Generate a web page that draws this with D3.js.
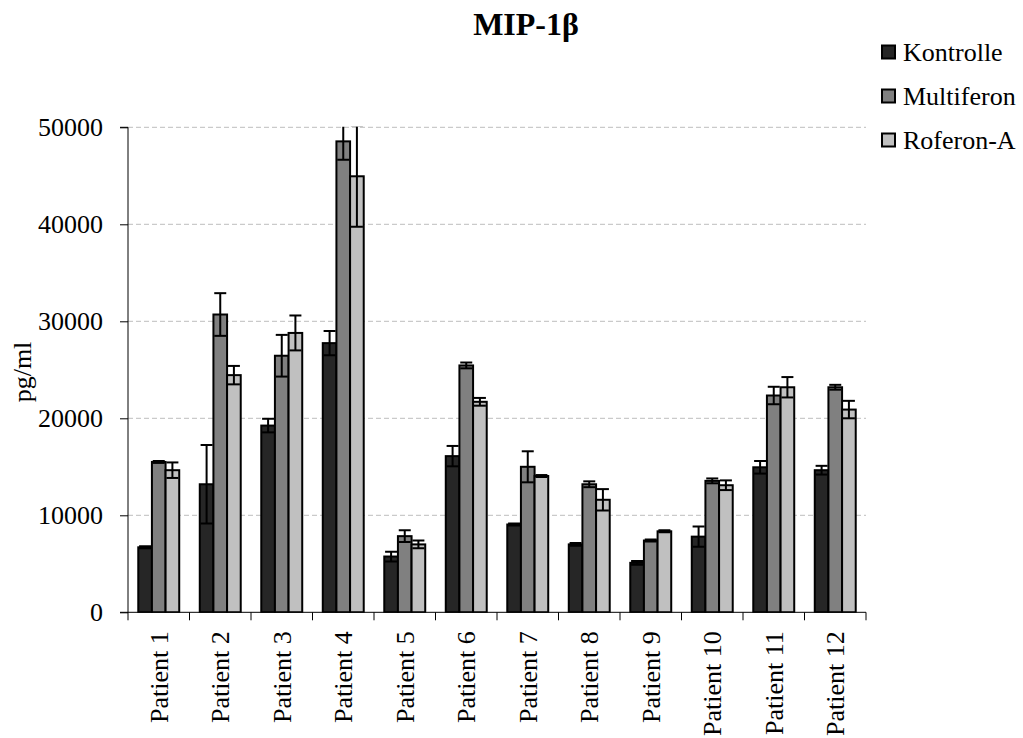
<!DOCTYPE html>
<html><head><meta charset="utf-8">
<script src="https://cdn.jsdelivr.net/npm/d3@7"></script>
<style>
html,body{margin:0;padding:0;background:#fff;}
svg{display:block;}
svg text{font-family:"Liberation Serif","Times New Roman",serif !important;}
</style></head>
<body>
<svg id="chart" width="1023" height="738"></svg>
<script>
const categories = ["Patient 1","Patient 2","Patient 3","Patient 4","Patient 5","Patient 6","Patient 7","Patient 8","Patient 9","Patient 10","Patient 11","Patient 12"];
const seriesNames = ["Kontrolle","Multiferon","Roferon-A"];
const kontrolle    = [6700, 13200, 19250, 27750, 5750, 16100, 9050, 7000, 5100, 7800, 14950, 14650];
const kontrolleErr = [100, 4050, 700, 1250, 500, 1050, 100, 150, 200, 1050, 650, 450];
const multiferon    = [15500, 30700, 26450, 48550, 7850, 25450, 15000, 13200, 7400, 13550, 22350, 23200];
const multiferonErr = [100, 2200, 2150, 1900, 600, 300, 1600, 300, 100, 250, 900, 250];
const roferon    = [14650, 24450, 28800, 44950, 7000, 21700, 14050, 11600, 8350, 13100, 23200, 20900];
const roferonErr = [800, 950, 1800, 5200, 400, 400, 100, 1100, 100, 500, 1050, 900];
const yTicks = [0, 10000, 20000, 30000, 40000, 50000];
const colors = ["#262626", "#808080", "#c0c0c0"];

const values = [kontrolle, multiferon, roferon];
const errors = [kontrolleErr, multiferonErr, roferonErr];
const FONT = "Liberation Serif";

const svg = d3.select("#chart");
const plot = {left: 128, right: 866, top: 127.3, bottom: 612.3};

const x0 = d3.scaleBand().domain(categories).range([plot.left, plot.right]).padding(0);
const gap = x0.bandwidth() * 0.167;
const x1 = d3.scaleBand().domain(seriesNames).range([gap, x0.bandwidth() - gap]).padding(0);
const y = d3.scaleLinear().domain([0, 50000]).range([plot.bottom, plot.top]);

// gridlines
svg.append("g").selectAll("line").data(yTicks.filter(d => d > 0)).join("line")
  .attr("x1", plot.left).attr("x2", plot.right)
  .attr("y1", d => y(d)).attr("y2", d => y(d))
  .attr("stroke", "#bdbdbd").attr("stroke-width", 1).attr("stroke-dasharray", "5,3");

// clip
svg.append("clipPath").attr("id", "clip").append("rect")
  .attr("x", plot.left).attr("y", plot.top - 0.5)
  .attr("width", plot.right - plot.left).attr("height", plot.bottom - plot.top + 1);

const data = [];
categories.forEach((c, i) => {
  seriesNames.forEach((s, j) => {
    data.push({cat: c, ser: s, v: values[j][i], e: errors[j][i], color: colors[j]});
  });
});

const g = svg.append("g").attr("clip-path", "url(#clip)");
g.selectAll("rect.bar").data(data).join("rect").attr("class", "bar")
  .attr("x", d => x0(d.cat) + x1(d.ser))
  .attr("y", d => y(d.v))
  .attr("width", x1.bandwidth())
  .attr("height", d => y(0) - y(d.v))
  .attr("fill", d => d.color)
  .attr("stroke", "#000").attr("stroke-width", 2);

// error bars
const capW = 6;
const cx = d => x0(d.cat) + x1(d.ser) + x1.bandwidth() / 2;
const eb = g.selectAll("g.err").data(data).join("g").attr("class", "err")
  .attr("stroke", "#000").attr("stroke-width", 2);
eb.append("line")
  .attr("x1", cx).attr("x2", cx)
  .attr("y1", d => y(d.v - d.e)).attr("y2", d => y(d.v + d.e));
eb.append("line")
  .attr("x1", d => cx(d) - capW).attr("x2", d => cx(d) + capW)
  .attr("y1", d => y(d.v + d.e)).attr("y2", d => y(d.v + d.e));
eb.append("line")
  .attr("x1", d => cx(d) - capW).attr("x2", d => cx(d) + capW)
  .attr("y1", d => y(d.v - d.e)).attr("y2", d => y(d.v - d.e));

// y axis
const yAxis = d3.axisLeft(y).tickValues(yTicks).tickSize(8).tickPadding(17).tickFormat(d3.format("d"));
const ya = svg.append("g").attr("transform", `translate(${plot.left},0)`).call(yAxis)
  .attr("font-family", FONT).attr("font-size", 26);
ya.select(".domain").attr("stroke", "#000").attr("d", `M-8,${plot.bottom}H0V${plot.top}H-8`);
ya.selectAll("text").attr("font-size", 26).attr("font-family", FONT).attr("fill", "#000");
ya.selectAll(".tick line").attr("stroke", "#000");

// x axis
const xa = svg.append("g").attr("transform", `translate(0,${plot.bottom})`);
xa.append("line").attr("x1", plot.left).attr("x2", plot.right).attr("y1", 0).attr("y2", 0).attr("stroke", "#000");
const bounds = categories.map(c => x0(c)).concat([plot.right]);
xa.selectAll("line.tk").data(bounds).join("line").attr("class", "tk")
  .attr("x1", d => d).attr("x2", d => d).attr("y1", 0).attr("y2", 8).attr("stroke", "#000");
xa.selectAll("text").data(categories).join("text")
  .attr("transform", d => `translate(${x0(d) + x0.bandwidth() / 2},19) rotate(-90)`)
  .attr("text-anchor", "end").attr("dy", "0.35em")
  .attr("font-family", FONT).attr("font-size", 26).attr("fill", "#000")
  .text(d => d);

// y label
svg.append("text").attr("transform", "translate(22,372) rotate(-90)")
  .attr("text-anchor", "middle").attr("dy", "0.35em")
  .attr("font-family", FONT).attr("font-size", 26).text("pg/ml");

// title
svg.append("text").attr("x", 526).attr("y", 35).attr("text-anchor", "middle")
  .attr("font-family", FONT).attr("font-size", 32).attr("font-weight", "bold").text("MIP-1β");

// legend
const lg = svg.append("g").selectAll("g").data(seriesNames).join("g")
  .attr("transform", (d, i) => `translate(882,${52 + i * 44})`);
lg.append("rect").attr("x", 0).attr("y", -6.5).attr("width", 13).attr("height", 13)
  .attr("fill", (d, i) => colors[i]).attr("stroke", "#000").attr("stroke-width", 2);
lg.append("text").attr("x", 21).attr("dy", "0.35em")
  .attr("font-family", FONT).attr("font-size", 26).text(d => d);
</script>
</body></html>
